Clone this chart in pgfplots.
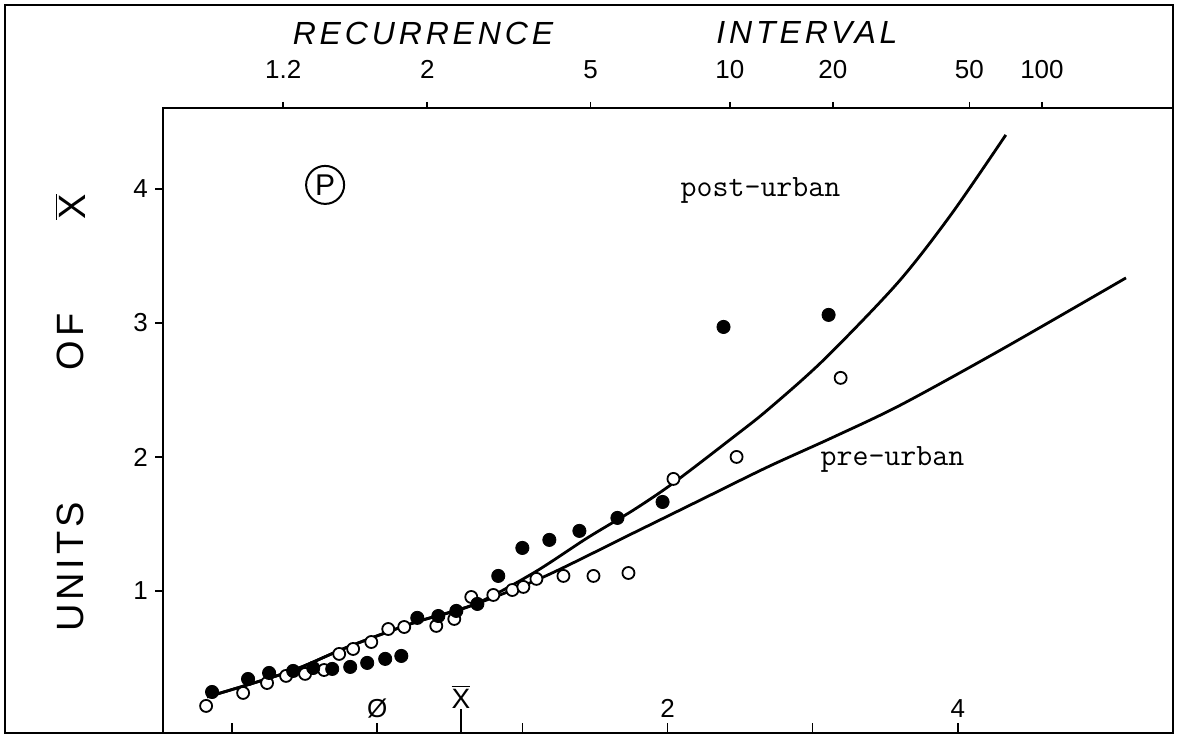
\documentclass[border=0pt]{standalone}
\usepackage{pgfplots}
\pgfplotsset{compat=1.18}
\usepackage{fontspec}
\setmainfont{Liberation Sans}
\newfontfamily\spacedfont[LetterSpace=12]{Liberation Sans}
\newfontfamily\ylabfont[LetterSpace=10]{Liberation Sans}

\pgfplotstableread{
x y
-1.179 0.142
-0.924 0.239
-0.759 0.313
-0.628 0.366
-0.497 0.381
-0.366 0.410
-0.262 0.530
-0.166 0.567
-0.041 0.619
0.076 0.716
0.186 0.731
0.407 0.739
0.531 0.791
0.648 0.955
0.800 0.970
0.931 1.007
1.007 1.030
1.097 1.090
1.283 1.112
1.490 1.112
1.731 1.134
2.041 1.836
2.476 2.000
3.193 2.590
}\preurban

\pgfplotstableread{
x y
-1.138 0.246
-0.890 0.343
-0.745 0.388
-0.579 0.403
-0.441 0.425
-0.310 0.418
-0.186 0.433
-0.069 0.463
0.055 0.493
0.166 0.515
0.276 0.799
0.421 0.813
0.545 0.851
0.690 0.903
0.834 1.112
1.000 1.321
1.186 1.381
1.393 1.448
1.655 1.545
1.966 1.664
2.386 2.970
3.110 3.060
}\posturban

\begin{document}
\begin{tikzpicture}[x=1pt,y=1pt]
\useasboundingbox (0,0) rectangle (589,368.5);
\draw[line width=1.3pt] (2.5,2) rectangle (586.5,366);

% axis B: bottom ticks (inward)
\begin{axis}[at={(81.5pt,2pt)}, anchor=south west, scale only axis,
  width=505pt, height=312.5pt,
  xmin=-1.476, xmax=5.483, ymin=-0.06, ymax=4.604,
  hide y axis,
  axis line style={line width=1.1pt},
  xtick={-1,0,1,2,3,4}, xticklabels={}, xtick pos=lower,
  tick align=inside, major tick length=5pt,
  tick style={line width=0.8pt, black},
  extra x ticks={0.5772}, extra x tick labels={},
  extra x tick style={major tick length=12pt, tick align=inside}]
\addplot[draw=none] coordinates {(0,1)};
\end{axis}

% axis C: top recurrence-interval ticks
\begin{axis}[at={(81.5pt,2pt)}, anchor=south west, scale only axis,
  width=505pt, height=312.5pt,
  xmin=-1.476, xmax=5.483, ymin=-0.06, ymax=4.604,
  hide y axis,
  axis line style={line width=1.1pt},
  xtick={-0.648,0.345,1.47,2.43,3.14,4.08,4.58},
  xticklabels={1.2,2,5,10,20,50,100},
  xtick pos=upper, xticklabel pos=upper,
  tick align=outside, major tick length=3pt,
  tick style={line width=0.8pt, black},
  xticklabel style={font=\fontsize{13}{15}\selectfont, yshift=8pt}]
\addplot[draw=none] coordinates {(0,1)};
\end{axis}

% axis A: data and y ticks
\begin{axis}[at={(81.5pt,2pt)}, anchor=south west, scale only axis,
  width=505pt, height=312.5pt,
  xmin=-1.476, xmax=5.483, ymin=-0.06, ymax=4.604,
  axis line style={line width=1.1pt},
  xtick=\empty,
  ytick={1,2,3,4}, yticklabels={1,2,3,4}, ytick pos=left,
  tick align=outside, major tick length=4pt,
  tick style={line width=0.8pt, black},
  yticklabel style={font=\fontsize{13}{15}\selectfont},
  clip=false]

% post-urban curve
\addplot[black, line width=1.4pt, smooth, tension=0.5] coordinates {
(-1.172,0.209) (-0.6,0.40) (-0.207,0.58) (0.248,0.761) (0.662,0.896)
(1.076,1.134) (1.448,1.396) (1.766,1.604) (2.041,1.806) (2.455,2.149)
(2.690,2.351) (3.076,2.724) (3.586,3.299) (3.952,3.806) (4.331,4.403)};

% pre-urban curve
\addplot[black, line width=1.4pt, smooth, tension=0.5] coordinates {
(-1.172,0.209) (-0.6,0.40) (-0.207,0.58) (0.248,0.761) (0.662,0.896)
(1.145,1.104) (1.766,1.433) (2.228,1.679) (2.690,1.925) (3.145,2.149)
(3.607,2.388) (4.297,2.799) (5.159,3.336)};

\addplot[only marks, mark=*, mark size=3pt,
  mark options={fill=white, draw=black, line width=0.9pt}] table {\preurban};
\addplot[only marks, mark=*, mark size=3.3pt,
  mark options={fill=black, draw=black}] table {\posturban};

% in-plot labels
\node[circle, draw, line width=1pt, minimum size=19pt, inner sep=0pt,
  font=\fontsize{15}{17}\selectfont] at (axis cs:-0.359,4.03) {P};
\node[font=\ttfamily\fontsize{15.5}{17}\selectfont] at (axis cs:2.641,3.99) {post-urban};
\node[font=\ttfamily\fontsize{15.5}{17}\selectfont] at (axis cs:3.55,1.98) {pre-urban};

% bottom reduced-variate labels (inside the box)
\node[anchor=south, font=\fontsize{13}{15}\selectfont, inner sep=0pt] at (axis cs:0,0.05) {Ø};
\node[anchor=south, font=\fontsize{14}{16}\selectfont, inner sep=0pt] at (axis cs:0.5772,0.12) {$\overline{\mbox{X}}$};
\node[anchor=south, font=\fontsize{13}{15}\selectfont, inner sep=0pt] at (axis cs:2,0.05) {2};
\node[anchor=south, font=\fontsize{13}{15}\selectfont, inner sep=0pt] at (axis cs:4,0.05) {4};
\end{axis}

% titles
\node[font=\spacedfont\itshape\fontsize{16}{18}\selectfont] at (211.5,352) {RECURRENCE};
\node[font=\spacedfont\itshape\fontsize{16}{18}\selectfont] at (403.5,352) {INTERVAL};
\node[rotate=90, font=\ylabfont\fontsize{19}{21}\selectfont] at (35,85) {UNITS};
\node[rotate=90, font=\ylabfont\fontsize{19}{21}\selectfont] at (35,197.5) {OF};
\node[rotate=90, font=\fontsize{19}{21}\selectfont] at (35,265) {$\overline{\mbox{X}}$};
\end{tikzpicture}
\end{document}
